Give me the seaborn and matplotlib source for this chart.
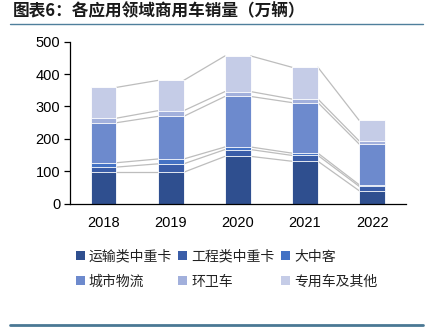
import matplotlib
matplotlib.use("Agg")
import matplotlib.pyplot as plt
import seaborn as sns
import numpy as np
import pandas as pd
from matplotlib.patches import Patch
from matplotlib.lines import Line2D

years = ["2018", "2019", "2020", "2021", "2022"]
series_names = ["运输类中重卡", "工程类中重卡", "大中客", "城市物流", "环卫车", "专用车及其他"]
transport = [97, 97, 146, 131, 40]
engineering = [16, 26, 21, 18, 13.5]
bus = [13.5, 15, 8, 7, 5]
city = [123.5, 131.5, 156, 156, 125.5]
sanitation = [14, 17.5, 15, 11, 9.5]
special = [95, 93.5, 110, 98, 63.5]
colors = ["#2F4F8F", "#3A5DA8", "#4472C4", "#6D8ACD", "#A2B0DC", "#C5CCE7"]

sns.set_style("white")
plt.rcParams['font.family'] = ['Liberation Sans', 'Noto Sans CJK SC', 'DejaVu Sans']

values = np.array([transport, engineering, bus, city, sanitation, special])
cum = np.cumsum(values, axis=0)

fig = plt.figure(figsize=(4.31, 3.33), dpi=100)
ax = fig.add_axes([70/431, (333-203.7)/333, 335.7/431, 162/333])

bw = 0.385
for i in range(len(series_names) - 1, -1, -1):
    df = pd.DataFrame({"year": years, "v": cum[i]})
    sns.barplot(data=df, x="year", y="v", color=colors[i], width=bw,
                edgecolor="white", linewidth=0.6, saturation=1, ax=ax, zorder=2)

# connector lines
for i in range(len(series_names)):
    for j in range(len(years) - 1):
        ax.plot([j + bw/2, j + 1 - bw/2], [cum[i][j], cum[i][j+1]],
                color="#BDBDBD", lw=0.9, zorder=1)

ax.set_xlim(-0.5, 4.5)
ax.set_ylim(0, 500)
ax.set_yticks(range(0, 501, 100))
ax.set_xlabel("")
ax.set_ylabel("")
for s in ["top", "right"]:
    ax.spines[s].set_visible(False)
for s in ["left", "bottom"]:
    ax.spines[s].set_color("#000000")
    ax.spines[s].set_linewidth(0.9)
ax.set_xticks(np.arange(5))
ax.set_xticklabels(years)
ax.set_xticks(np.arange(-0.5, 4.6, 1), minor=True)
ax.tick_params(axis="x", which="major", length=0, labelsize=10.5, pad=9, colors="#000000")
ax.tick_params(axis="x", which="minor", direction="in", length=4, width=0.9, color="#000000")
ax.tick_params(axis="y", direction="out", length=4, width=0.9, labelsize=10.5, pad=3, colors="#000000", left=True)

handles = [Patch(facecolor=c, edgecolor="none") for c in colors]
order = [0, 3, 1, 4, 2, 5]
leg = fig.legend([handles[k] for k in order], [series_names[k] for k in order],
                 ncol=3, loc="upper left", bbox_to_anchor=(63/431, 1 - 237/333),
                 frameon=False, handlelength=0.65, handleheight=0.65,
                 handletextpad=0.3, columnspacing=0.45, labelspacing=0.8,
                 prop={'family': ['Noto Sans CJK SC', 'DejaVu Sans'], 'size': 10})
for t in leg.get_texts():
    t.set_color("#222222")

fig.text(13/431, 1 - 11/333, "图表6：各应用领域商用车销量（万辆）", fontsize=12,
         fontweight="bold", style="italic", va="center", ha="left", color="#1a1a1a",
         family=['Noto Sans CJK SC', 'DejaVu Sans'])
fig.add_artist(Line2D([10/431, 423/431], [1 - 23.5/333, 1 - 23.5/333], color="#4F7F9C", lw=1.0))
fig.add_artist(Line2D([10/431, 423/431], [1 - 325/333, 1 - 325/333], color="#4A7894", lw=2.0))

fig.savefig("out.png", dpi=100)
